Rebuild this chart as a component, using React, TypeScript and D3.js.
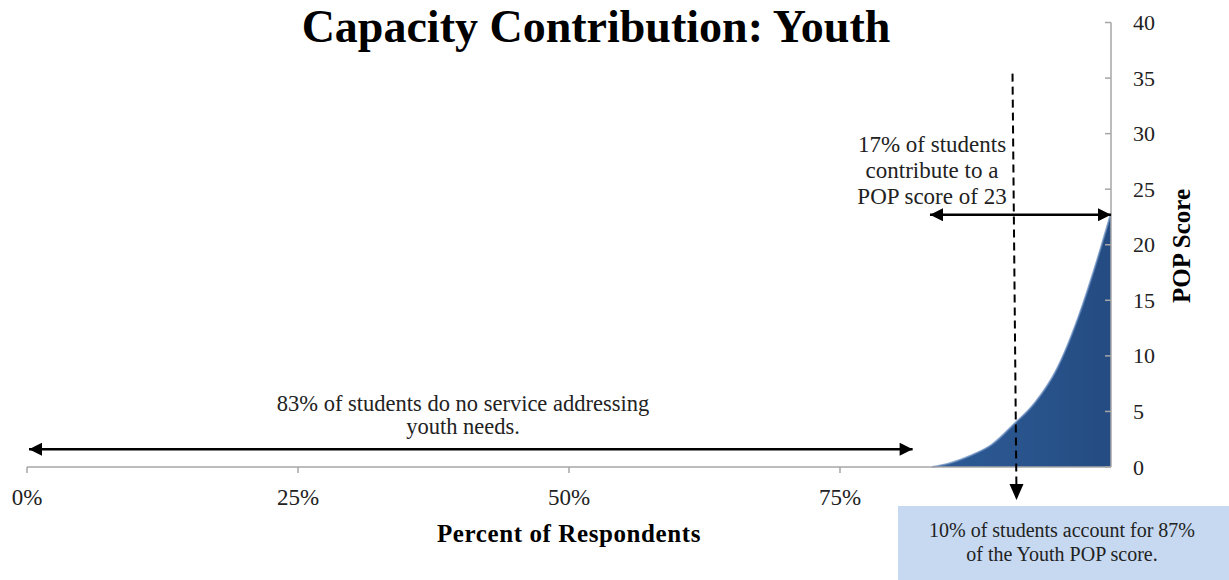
import React from "react";
import * as d3 from "d3";

const percentRespondents = [83.5, 85, 87, 89, 91, 93, 95, 97, 99, 100];
const popScore = [0, 0.3, 1.0, 2.0, 3.8, 5.8, 8.8, 13.5, 19.5, 22.8];
const xTicks = [0, 25, 50, 75];
const yTicks = [0, 5, 10, 15, 20, 25, 30, 35, 40];
const title = "Capacity Contribution: Youth";
const xTitle = "Percent of Respondents";
const yTitle = "POP Score";
const noServiceNote = ["83% of students do no service addressing", "youth needs."];
const contributeNote = ["17% of students", "contribute to a", "POP score of 23"];
const boxNote = ["10% of students account for 87%", "of the Youth POP score."];

const W = 1229;
const H = 580;
const FONT = "'Liberation Serif', 'Times New Roman', serif";

export default function App() {
  const x = d3.scaleLinear().domain([0, 100]).range([27, 1111]);
  const y = d3.scaleLinear().domain([0, 40]).range([467, 22.5]);
  const pts = percentRespondents.map((p, i) => [p, popScore[i]] as [number, number]);
  const area = d3
    .area<[number, number]>()
    .x((d) => x(d[0]))
    .y0(y(0))
    .y1((d) => y(d[1]))
    .curve(d3.curveMonotoneX);
  const line = d3
    .line<[number, number]>()
    .x((d) => x(d[0]))
    .y((d) => y(d[1]))
    .curve(d3.curveMonotoneX);
  const axisColor = "#a6a6a6";
  const dashX = x(91.1);
  const txt = "#222";
  return (
    <svg
      width={W}
      height={H}
      style={{ position: "absolute", left: 0, top: 0, background: "#fff" }}
      fontFamily={FONT}
    >
      <defs>
        <marker id="ah" viewBox="0 0 10 10" refX="10" refY="5" markerWidth="6" markerHeight="5.2" orient="auto-start-reverse" markerUnits="strokeWidth">
          <path d="M0,0 L10,5 L0,10 z" fill="#000" />
        </marker>
        <linearGradient id="ag" x1="0" y1="0" x2="1" y2="0">
          <stop offset="0" stopColor="#2e5b96" />
          <stop offset="1" stopColor="#244c82" />
        </linearGradient>
      </defs>

      {/* title */}
      <text x={596} y={42} textAnchor="middle" fontSize={46} fontWeight="bold">
        {title}
      </text>

      {/* area */}
      <path d={area(pts) || ""} fill="url(#ag)" />
      <path d={line(pts) || ""} fill="none" stroke="#5a82b8" strokeWidth={2} opacity={0.7} />

      {/* x axis */}
      <line x1={x(0)} x2={x(100)} y1={y(0)} y2={y(0)} stroke={axisColor} strokeWidth={1.5} />
      {xTicks.map((t) => (
        <g key={t}>
          <line x1={x(t)} x2={x(t)} y1={y(0)} y2={y(0) + 6} stroke={axisColor} strokeWidth={1.5} />
          <text x={x(t)} y={505} textAnchor="middle" fontSize={23} fill={txt}>
            {t}%
          </text>
        </g>
      ))}
      <text x={x(50)} y={542} textAnchor="middle" fontSize={25} fontWeight="bold" letterSpacing={0.6}>
        {xTitle}
      </text>

      {/* y axis */}
      <line x1={x(100)} x2={x(100)} y1={y(0)} y2={y(40)} stroke={axisColor} strokeWidth={1.5} />
      {yTicks.map((t) => (
        <g key={t}>
          <line x1={x(100) - 6} x2={x(100)} y1={y(t)} y2={y(t)} stroke={axisColor} strokeWidth={1.5} />
          <text x={1133} y={y(t) + 7.5} fontSize={22} fill={txt}>
            {t}
          </text>
        </g>
      ))}
      <text
        transform={`translate(${1190},${246}) rotate(-90)`}
        textAnchor="middle"
        fontSize={25}
        fontWeight="bold"
      >
        {yTitle}
      </text>

      {/* 83% arrow */}
      <line
        x1={x(0) + 2}
        x2={x(81.7)}
        y1={y(1.6)}
        y2={y(1.6)}
        stroke="#000"
        strokeWidth={2.5}
        markerStart="url(#ah)"
        markerEnd="url(#ah)"
      />
      {noServiceNote.map((s, i) => (
        <text key={i} x={463} y={411 + i * 23} textAnchor="middle" fontSize={22.5} fill={txt}>
          {s}
        </text>
      ))}

      {/* 17% arrow */}
      <line
        x1={x(83.3)}
        x2={x(100)}
        y1={y(22.7)}
        y2={y(22.7)}
        stroke="#000"
        strokeWidth={2.5}
        markerStart="url(#ah)"
        markerEnd="url(#ah)"
      />
      {contributeNote.map((s, i) => (
        <text key={i} x={932} y={152 + i * 26} textAnchor="middle" fontSize={23} fill={txt}>
          {s}
        </text>
      ))}

      {/* dashed line */}
      <line
        x1={dashX - 2}
        x2={dashX + 2}
        y1={y(35.4)}
        y2={500}
        stroke="#000"
        strokeWidth={2}
        strokeDasharray="8,5"
      />
      <path d={`M${dashX + 2 - 7},${484} L${dashX + 2 + 7},${484} L${dashX + 2},${500} z`} fill="#000" />

      {/* box note */}
      <rect x={898} y={506} width={W - 898} height={H - 506} fill="#c6d9f1" />
      {boxNote.map((s, i) => (
        <text key={i} x={1062} y={537 + i * 24} textAnchor="middle" fontSize={20} fill={txt}>
          {s}
        </text>
      ))}
    </svg>
  );
}
